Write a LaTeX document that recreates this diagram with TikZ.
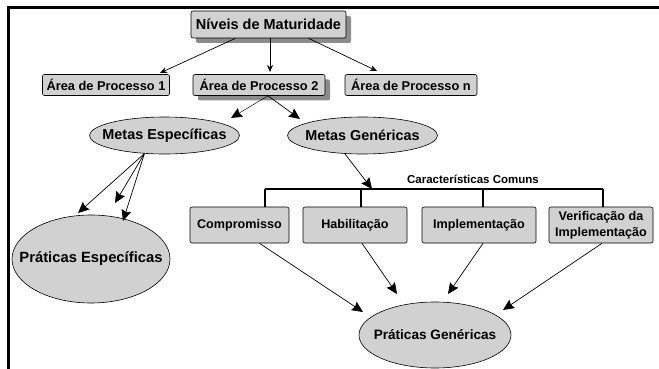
\documentclass[tikz,border=0pt]{standalone}
\usepackage{fontspec}
\setmainfont{Liberation Sans}
\usetikzlibrary{arrows.meta,shapes.geometric,shadows}
\begin{document}
\begin{tikzpicture}[x=1pt,y=-1pt,
  box/.style={draw=black,line width=0.6pt,fill=black!18,rounded corners=2pt,inner sep=0pt,
    font=\bfseries\fontsize{12.8}{15}\selectfont,minimum height=21pt},
  shad/.style={drop shadow={shadow xshift=5pt,shadow yshift=-5pt,fill=black!45,opacity=1}},
  oval/.style={draw=black,line width=0.6pt,fill=black!18,ellipse,inner xsep=-60pt,inner ysep=-20pt,
    font=\bfseries\fontsize{14.4}{17}\selectfont},
  cbox/.style={draw=black,line width=0.6pt,fill=black!18,rounded corners=2pt,inner sep=0pt,
    minimum height=36pt,align=center,font=\bfseries\fontsize{12.6}{15.5}\selectfont},
  sarr/.style={line width=0.7pt,-{Stealth[length=7pt,width=6pt]}},
  barr/.style={line width=0.7pt,-{Stealth[length=11pt,width=10pt,inset=1.5pt]}},
  brk/.style={line width=1.6pt}
]
\useasboundingbox (0,0) rectangle (659,369);
% frame
\draw[line width=3pt] (8,369) -- (8,8) -- (659,8);

% top level
\node[box,shad,minimum width=155pt,minimum height=27pt,font=\bfseries\fontsize{14.5}{17}\selectfont] (niv) at (268.5,24.5) {Níveis de Maturidade};
\node[box,minimum width=127pt] (a1) at (106,85) {Área de Processo 1};
\node[box,shad,minimum width=132pt] (a2) at (259,85) {Área de Processo 2};
\node[box,minimum width=132pt] (an) at (411,85) {Área de Processo n};

\coordinate (ta1) at (160,73);
\coordinate (ta2) at (270,72);
\coordinate (tan) at (377,71);
\draw[sarr] ([xshift=-33pt]niv.south) -- (ta1);
\draw[sarr] ([xshift=1.5pt]niv.south) -- (ta2);
\draw[sarr] ([xshift=40pt]niv.south) -- (tan);

% metas
\node[oval,minimum width=150pt,minimum height=37pt] (me) at (164.5,135.5) {Metas Específicas};
\node[oval,minimum width=150pt,minimum height=37pt] (mg) at (362.5,135.5) {Metas Genéricas};
\coordinate (tme) at (231,118);
\coordinate (tmg) at (300,119);
\draw[barr,line width=0.5pt] ([xshift=9pt]a2.south) -- (tme);
\draw[barr] ([xshift=9pt]a2.south) -- (tmg);

% praticas especificas
\node[oval,minimum width=158pt,minimum height=88pt,font=\bfseries\fontsize{14.8}{17}\selectfont] (pe) at (91,259) {Práticas Específicas};
\coordinate (tp1) at (78,213);
\coordinate (tp2) at (115,203);
\coordinate (tp3) at (123,221);
\draw[barr] (me.222) -- (tp1);
\draw[barr] (me.222) -- (tp2);
\draw[barr] (me.222) -- (tp3);

% caracteristicas comuns
\node[font=\bfseries\fontsize{11.5}{13}\selectfont] (car) at (473,179) {Características Comuns};
\node[cbox,minimum width=99pt] (comp) at (239.5,225) {Compromisso};
\node[cbox,minimum width=104pt] (hab) at (355,225) {Habilitação};
\node[cbox,minimum width=114pt] (imp) at (479,225) {Implementação};
\node[cbox,minimum width=104pt] (ver) at (601,225) {Verificação da\\Implementação};

\coordinate (b1) at (265,189);
\coordinate (b2) at (361,189);
\coordinate (b3) at (483,189);
\coordinate (b4) at (603,189);
\draw[line width=1.2pt] (b1) -- (b4);
\draw[brk] (b1) -- (b1 |- comp.north);
\draw[brk] (b2) -- (b2 |- hab.north);
\draw[brk] (b3) -- (b3 |- imp.north);
\draw[brk] (b4) -- (b4 |- ver.north);
\coordinate (tcar) at (372,189);
\draw[barr] (mg.226) -- (tcar);

% praticas genericas
\node[oval,minimum width=152pt,minimum height=66pt,font=\bfseries\fontsize{13.6}{16}\selectfont] (pg) at (435,335) {Práticas Genéricas};
\coordinate (tg1) at (363,312);
\coordinate (tg2) at (397,294);
\coordinate (tg3) at (448,294);
\coordinate (tg4) at (503,310);
\draw[barr] ([xshift=20pt]comp.south) -- (tg1);
\draw[barr] ([xshift=7pt]hab.south) -- (tg2);
\draw[barr] ([xshift=4pt]imp.south) -- (tg3);
\draw[barr] ([xshift=1pt]ver.south) -- (tg4);
\end{tikzpicture}
\end{document}
